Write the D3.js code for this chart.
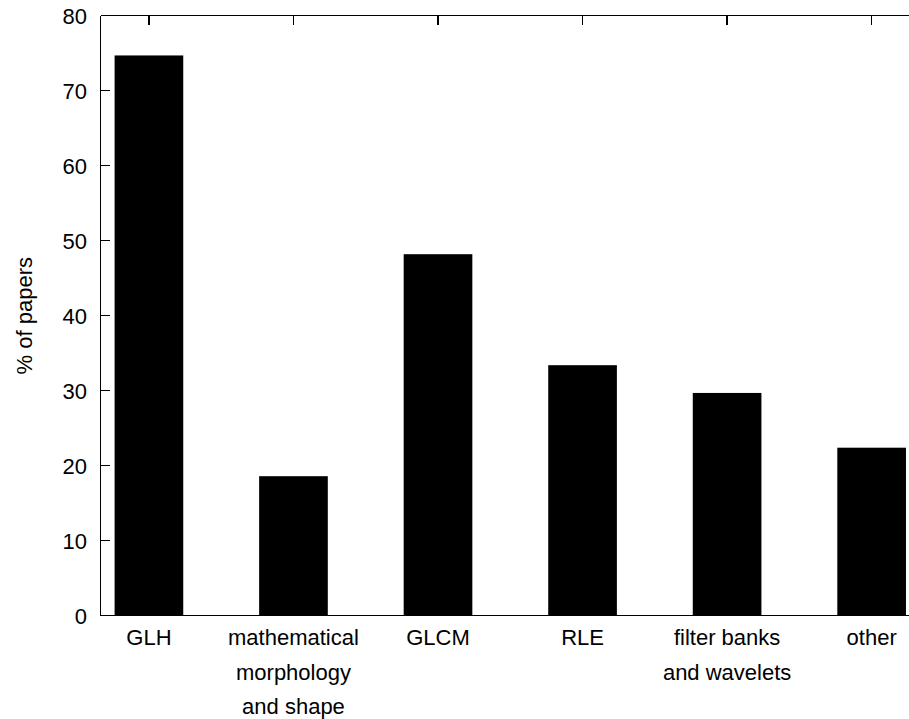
<!DOCTYPE html>
<html>
<head>
<meta charset="UTF-8">
<title>papers</title>
<script src="https://cdn.jsdelivr.net/npm/d3@7"></script>
<style>
  body { margin: 0; background: #fff; }
  svg { display: block; font-family: "Liberation Sans", Arial, sans-serif; }
  .frame line { stroke: #000; stroke-width: 1.3; shape-rendering: crispEdges; }
</style>
</head>
<body>
<div id="root"></div>
<script>
  let categories = [["GLH"], ["mathematical", "morphology", "and shape"], ["GLCM"], ["RLE"], ["filter banks", "and wavelets"], ["other"]]
  let values = [74.7, 18.6, 48.2, 33.4, 29.7, 22.4]
  let yTicks = [0, 10, 20, 30, 40, 50, 60, 70, 80]
  let yLabel = "% of papers"

  let width = 909, height = 719
  let plotLeft = 100.5, plotRight = 908.5, plotTop = 15.7, plotBottom = 615.7
  let tickLen = 9, barWidth = 0.475

  let svg = d3.select("#root").append("svg").attr("width", width).attr("height", height)

  let x = d3.scaleLinear().domain([-0.335, 5.255]).range([plotLeft, plotRight])
  let y = d3.scaleLinear().domain([0, 80]).range([plotBottom, plotTop])

  // bars
  svg.append("g").selectAll("rect").data(values).join("rect")
    .attr("x", (d, i) => x(i - barWidth / 2))
    .attr("width", (d, i) => x(i + barWidth / 2) - x(i - barWidth / 2))
    .attr("y", d => y(d))
    .attr("height", d => y(0) - y(d))
    .attr("fill", "#000")

  // frame + ticks (right border falls just outside the picture)
  let frame = svg.append("g").attr("class", "frame")
  frame.append("line").attr("x1", plotLeft).attr("x2", width + 5).attr("y1", plotTop).attr("y2", plotTop)
  frame.append("line").attr("x1", plotLeft).attr("x2", plotRight).attr("y1", plotBottom).attr("y2", plotBottom)
  frame.append("line").attr("x1", plotLeft).attr("x2", plotLeft).attr("y1", plotTop).attr("y2", plotBottom)

  frame.selectAll("line.ytick").data(yTicks.slice(1, -1)).join("line").attr("class", "ytick")
    .attr("x1", plotLeft).attr("x2", plotLeft + tickLen).attr("y1", d => y(d)).attr("y2", d => y(d))
  frame.selectAll("line.xtick").data(values).join("line").attr("class", "xtick")
    .attr("x1", (d, i) => x(i)).attr("x2", (d, i) => x(i)).attr("y1", plotTop).attr("y2", plotTop + tickLen)

  // y tick labels
  svg.append("g").selectAll("text").data(yTicks).join("text")
    .attr("x", 87).attr("y", d => y(d)).attr("dy", "0.36em")
    .attr("text-anchor", "end").attr("font-size", 22).text(d => d)

  // x labels
  let xl = svg.append("g").selectAll("g").data(categories).join("g")
    .attr("transform", (d, i) => "translate(" + x(i) + ",645)")
  xl.selectAll("text").data(d => d).join("text")
    .attr("y", (d, j) => j * 34.5).attr("text-anchor", "middle").attr("font-size", 22).text(d => d)

  // y axis title
  svg.append("text").attr("transform", "translate(32," + ((plotTop + plotBottom) / 2) + ") rotate(-90)")
    .attr("text-anchor", "middle").attr("font-size", 22).text(yLabel)
</script>
</body>
</html>
